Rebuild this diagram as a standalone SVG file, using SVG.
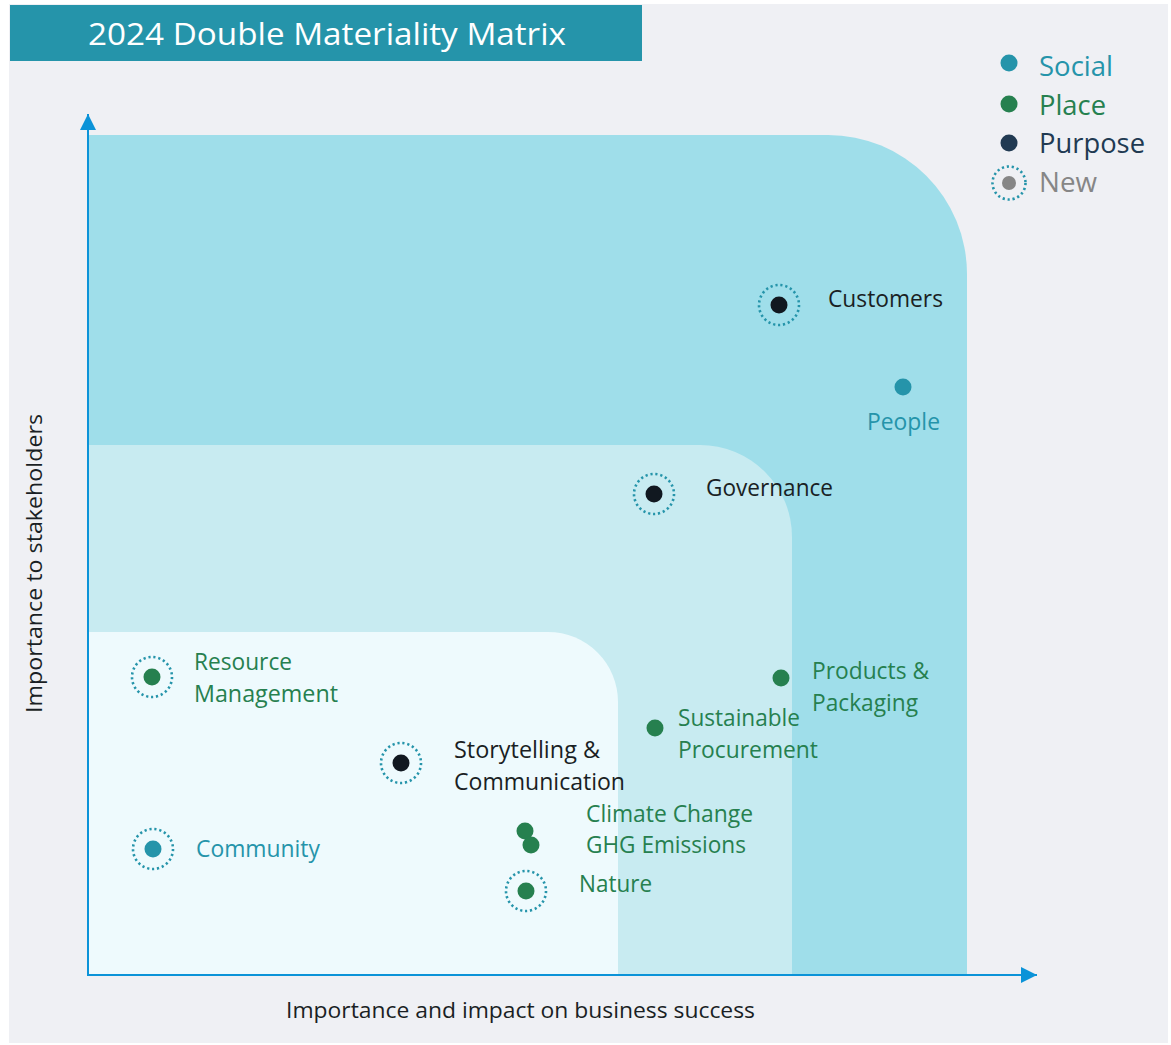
<svg xmlns="http://www.w3.org/2000/svg" width="1171" height="1045" viewBox="0 0 1171 1045">
<style>
text{font-family:"Open Sans","Noto Sans","Liberation Sans",sans-serif}
.lbl{font-size:23px}
.leg{font-size:27px}
.soc{fill:#2594AA}
.pla{fill:#26804F}
.pur{fill:#111820}
.dk{fill:#1a1f24}
.ring{fill:none;stroke:#2594AA;stroke-width:2.6;stroke-dasharray:2.2 2.8}
.axis{stroke:#0B93D8;stroke-width:2;fill:none}
</style>
<defs>
<marker id="arr" viewBox="0 0 10 10" refX="10" refY="5" markerWidth="16" markerHeight="16" markerUnits="userSpaceOnUse" orient="auto">
<path d="M0,0 L10,5 L0,10 Z" fill="#0B93D8"/>
</marker>
</defs>
<rect width="1171" height="1045" fill="#ffffff"/>
<rect x="9" y="4" width="1159" height="1039" fill="#EFF0F4"/>
<g id="title">
<rect x="10" y="5" width="632" height="56" fill="#2594AA"/>
<text x="88" y="45" font-size="31" fill="#ffffff" textLength="478" lengthAdjust="spacingAndGlyphs">2024 Double Materiality Matrix</text>
</g>
<g id="zones">
<path d="M88,975 V135 H828 A139,139 0 0 1 967,274 V975 Z" fill="#9FDEEA"/>
<path d="M88,975 V445 H700 A92,92 0 0 1 792,537 V975 Z" fill="#C8EBF1"/>
<path d="M88,975 V632 H548 A70,70 0 0 1 618,702 V975 Z" fill="#EEFAFD"/>
</g>
<g id="connectors">
<line class="axis" x1="88" y1="976" x2="88" y2="114" marker-end="url(#arr)"/>
<line class="axis" x1="87" y1="975" x2="1037" y2="975" marker-end="url(#arr)"/>
</g>
<g id="axis-labels">
<text x="286" y="1018" font-size="21" class="dk" textLength="469" lengthAdjust="spacingAndGlyphs">Importance and impact on business success</text>
<text transform="translate(42,713) rotate(-90)" x="0" y="0" font-size="21" class="dk" textLength="299" lengthAdjust="spacingAndGlyphs">Importance to stakeholders</text>
</g>
<g id="legend">
<circle cx="1009" cy="63" r="8.5" class="soc"/>
<text x="1039" y="76" class="leg soc" textLength="74" lengthAdjust="spacingAndGlyphs">Social</text>
<circle cx="1009" cy="104" r="8.5" class="pla"/>
<text x="1039" y="115" class="leg pla" textLength="67" lengthAdjust="spacingAndGlyphs">Place</text>
<circle cx="1009" cy="143" r="8.5" fill="#213A52"/>
<text x="1039" y="153" class="leg" fill="#213A52" textLength="106" lengthAdjust="spacingAndGlyphs">Purpose</text>
<circle cx="1009" cy="183" r="16.5" class="ring"/>
<circle cx="1009" cy="183" r="7" fill="#868686"/>
<text x="1039" y="192" class="leg" fill="#868686" textLength="58" lengthAdjust="spacingAndGlyphs">New</text>
</g>
<g id="customers">
<circle cx="779" cy="305" r="20" class="ring"/>
<circle cx="779" cy="305" r="8.5" class="pur"/>
<text x="828" y="307" class="lbl dk" textLength="115" lengthAdjust="spacingAndGlyphs">Customers</text>
</g>
<g id="people">
<circle cx="903" cy="387" r="8.5" class="soc"/>
<text x="867" y="430" class="lbl soc" textLength="73" lengthAdjust="spacingAndGlyphs">People</text>
</g>
<g id="governance">
<circle cx="654" cy="494" r="20" class="ring"/>
<circle cx="654" cy="494" r="8.5" class="pur"/>
<text x="706" y="496" class="lbl dk" textLength="127" lengthAdjust="spacingAndGlyphs">Governance</text>
</g>
<g id="products-packaging">
<circle cx="781" cy="678" r="8.5" class="pla"/>
<text x="812" y="679" class="lbl pla" textLength="117" lengthAdjust="spacingAndGlyphs">Products &amp;</text>
<text x="812" y="711" class="lbl pla" textLength="106" lengthAdjust="spacingAndGlyphs">Packaging</text>
</g>
<g id="sustainable-procurement">
<circle cx="655" cy="728" r="8.5" class="pla"/>
<text x="678" y="726" class="lbl pla" textLength="122" lengthAdjust="spacingAndGlyphs">Sustainable</text>
<text x="678" y="758" class="lbl pla" textLength="140" lengthAdjust="spacingAndGlyphs">Procurement</text>
</g>
<g id="resource-management">
<circle cx="152" cy="677" r="20" class="ring"/>
<circle cx="152" cy="677" r="8.5" class="pla"/>
<text x="194" y="670" class="lbl pla" textLength="98" lengthAdjust="spacingAndGlyphs">Resource</text>
<text x="194" y="702" class="lbl pla" textLength="144" lengthAdjust="spacingAndGlyphs">Management</text>
</g>
<g id="storytelling-communication">
<circle cx="401" cy="763" r="20" class="ring"/>
<circle cx="401" cy="763" r="8.5" class="pur"/>
<text x="454" y="758" class="lbl dk" textLength="146" lengthAdjust="spacingAndGlyphs">Storytelling &amp;</text>
<text x="454" y="790" class="lbl dk" textLength="171" lengthAdjust="spacingAndGlyphs">Communication</text>
</g>
<g id="climate-change-ghg">
<circle cx="525" cy="831" r="8.5" class="pla"/>
<circle cx="531" cy="845" r="8.5" class="pla"/>
<text x="586" y="822" class="lbl pla" textLength="167" lengthAdjust="spacingAndGlyphs">Climate Change</text>
<text x="586" y="853" class="lbl pla" textLength="160" lengthAdjust="spacingAndGlyphs">GHG Emissions</text>
</g>
<g id="community">
<circle cx="153" cy="849" r="20" class="ring"/>
<circle cx="153" cy="849" r="8.5" class="soc"/>
<text x="196" y="857" class="lbl soc" textLength="124" lengthAdjust="spacingAndGlyphs">Community</text>
</g>
<g id="nature">
<circle cx="526" cy="891" r="20" class="ring"/>
<circle cx="526" cy="891" r="8.5" class="pla"/>
<text x="579" y="892" class="lbl pla" textLength="73" lengthAdjust="spacingAndGlyphs">Nature</text>
</g>
</svg>
